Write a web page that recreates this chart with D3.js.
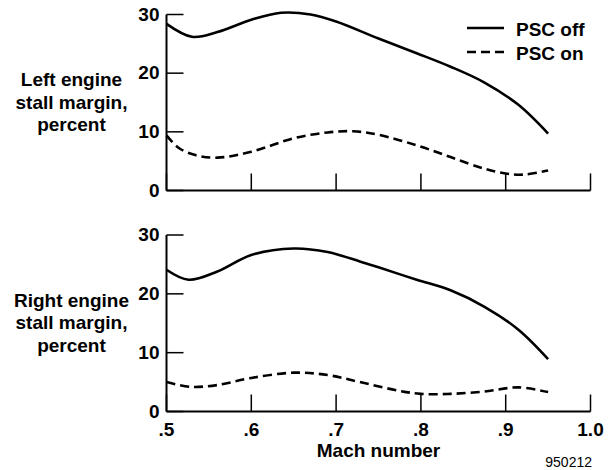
<!DOCTYPE html>
<html>
<head>
<meta charset="utf-8">
<title>Stall margin vs Mach</title>
<script src="https://d3js.org/d3.v7.min.js"></script>
<style>
  body { margin: 0; background: #fff; }
  svg text { font-family: "Liberation Sans", Arial, sans-serif; font-weight: bold; fill: #000; }
  .axis path { stroke: #000; stroke-width: 2; }
  .axis line { stroke: #000; stroke-width: 1.5; }
  .axis text { font-size: 19px; font-family: "Liberation Sans", Arial, sans-serif; font-weight: bold; }
  .curve { fill: none; stroke: #000; stroke-width: 2.6; }
</style>
</head>
<body>
<script>

// Mach numbers and stall margins (percent)
var leftOffMach  = [.5, .53, .56, .6, .635, .67, .7, .75, .795, .835, .875, .915, .95];
var leftOff      = [28.4, 26.2, 27.0, 29.1, 30.3, 30.0, 28.8, 25.9, 23.4, 21.1, 18.4, 14.6, 9.7];
var leftOnMach   = [.5, .515, .535, .56, .6, .65, .69, .72, .75, .795, .835, .875, .9, .92, .95];
var leftOn       = [9.4, 7.2, 6.0, 5.6, 6.6, 8.9, 9.9, 10.1, 9.5, 7.7, 5.7, 3.7, 2.9, 2.7, 3.4];

var rightOffMach = [.5, .526, .56, .6, .65, .69, .728, .75, .795, .835, .875, .915, .95];
var rightOff     = [24.1, 22.4, 23.8, 26.6, 27.7, 27.1, 25.5, 24.5, 22.4, 20.6, 17.8, 13.9, 8.9];
var rightOnMach  = [.5, .528, .56, .6, .65, .69, .728, .775, .8, .835, .875, .915, .95];
var rightOn      = [5.0, 4.2, 4.5, 5.7, 6.6, 6.2, 5.0, 3.5, 3.0, 3.0, 3.4, 4.1, 3.3];

var machTicks   = [.5, .6, .7, .8, .9, 1.0];
var marginTicks = [0, 10, 20, 30];
var seriesNames = ["PSC off", "PSC on"];

var width = 609, height = 470;

var svg = d3.select("body").append("svg")
    .attr("width", width)
    .attr("height", height);

var x = d3.scaleLinear().domain([.5, 1.0]).range([166.5, 590.5]);

var panels = [
  { top: 14.5, bottom: 190.5, label: ["Left engine", "stall margin,", "percent"],
    off: leftOffMach.map(function(m, i) { return [m, leftOff[i]]; }),
    on: leftOnMach.map(function(m, i) { return [m, leftOn[i]]; }), labels: false },
  { top: 235, bottom: 411.5, label: ["Right engine", "stall margin,", "percent"],
    off: rightOffMach.map(function(m, i) { return [m, rightOff[i]]; }),
    on: rightOnMach.map(function(m, i) { return [m, rightOn[i]]; }), labels: true }
];

panels.forEach(function(p) {
  var y = d3.scaleLinear().domain([0, 30]).range([p.bottom, p.top]);

  var line = d3.line()
      .x(function(d) { return x(d[0]); })
      .y(function(d) { return y(d[1]); })
      .curve(d3.curveCatmullRom.alpha(0.5));

  svg.append("g")
      .attr("class", "axis")
      .attr("transform", "translate(0," + p.bottom + ")")
      .call(d3.axisBottom(x)
        .tickValues(machTicks)
        .tickSizeInner(-17)
        .tickSizeOuter(0)
        .tickPadding(11)
        .offset(0)
        .tickFormat(function(d) {
          if (!p.labels) return "";
          return d === 1 ? "1.0" : d3.format(".1f")(d).replace(/^0/, "");
        }));

  svg.append("g")
      .attr("class", "axis")
      .attr("transform", "translate(" + x(.5) + ",0)")
      .call(d3.axisLeft(y)
        .tickValues(marginTicks)
        .tickSizeInner(-17)
        .tickSizeOuter(0)
        .tickPadding(7)
        .offset(0));

  svg.append("path")
      .datum(p.off)
      .attr("class", "curve")
      .attr("d", line);

  svg.append("path")
      .datum(p.on)
      .attr("class", "curve")
      .attr("stroke-dasharray", "9,5")
      .attr("d", line);

  svg.append("text")
      .attr("text-anchor", "middle")
      .attr("font-size", 19)
      .selectAll("tspan")
      .data(p.label)
    .enter().append("tspan")
      .attr("x", 71.5)
      .attr("y", function(d, i) { return p.top + 71.5 + i * 22.5; })
      .text(function(d) { return d; });
});

// legend
var legend = svg.append("g").attr("transform", "translate(467,28)");
seriesNames.forEach(function(name, i) {
  legend.append("line")
      .attr("x1", 0).attr("x2", 37)
      .attr("y1", i * 24).attr("y2", i * 24)
      .attr("stroke", "#000")
      .attr("stroke-width", 2.6)
      .attr("stroke-dasharray", i ? "9,5" : null);
  legend.append("text")
      .attr("x", 49)
      .attr("y", i * 24 + 8)
      .attr("font-size", 19)
      .text(name);
});

svg.append("text")
    .attr("x", x(.75))
    .attr("y", 457)
    .attr("text-anchor", "middle")
    .attr("font-size", 19)
    .text("Mach number");

svg.append("text")
    .attr("x", 592)
    .attr("y", 466.5)
    .attr("text-anchor", "end")
    .attr("font-size", 14)
    .style("font-weight", "normal")
    .text("950212");

</script>
</body>
</html>
